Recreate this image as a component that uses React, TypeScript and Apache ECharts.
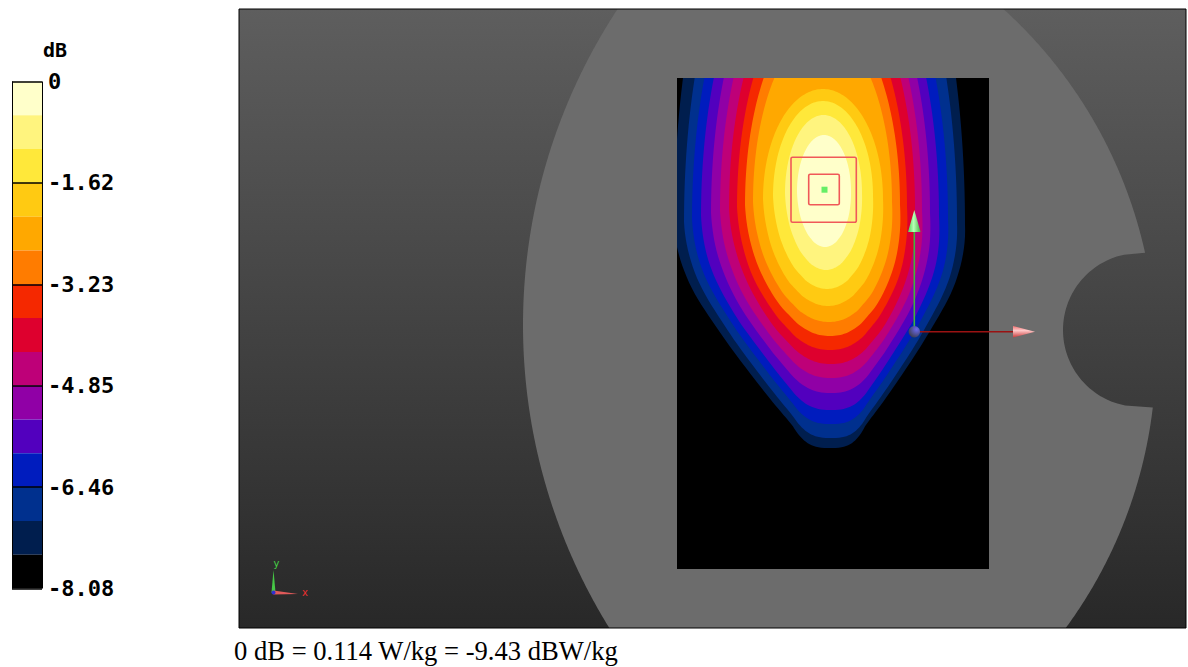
import React, { useEffect, useRef } from 'react';
import * as echarts from 'echarts';

type Pt = [number, number];

// ---- colour scale (dB) ----
const tickLabels = ['0', '-1.62', '-3.23', '-4.85', '-6.46', '-8.08'];
const tickStep = 1.616;
const scaleMin = -8.08;
const scaleMax = 0;
const bandLower = [-0.539, -1.077, -1.616, -2.155, -2.693, -3.232, -3.771, -4.309, -4.848, -5.387, -5.925, -6.464, -7.003, -7.541, -8.08];
const bandColors = ['#FFFFCA', '#FFF47E', '#FFE83A', '#FFCA12', '#FFA800', '#FF7C00', '#F52800', '#DE002E', '#BE0078', '#9000A6', '#5200BE', '#001CBE', '#00308E', '#001E4E', '#000000'];

// ---- iso-dB contours: outer boundary of each colour band (scan-area units, y downward) ----
const levelLeft = [120, 108, 96, 86, 76, 68, 60, 52, 43, 34, 24, 15, 7, -3];
const levelRight = [174, 185, 196, 206, 215, 223, 230, 238, 245, 253, 262, 271, 280, 288];
const levelWidestY = [113, 115, 118, 121, 124, 127, 129, 131, 133, 135, 138, 141, 144, 147];
const levelTop = [57, 37, 23, 11, -48, -68, -90, -113, -133, -153, -168, -188, -228, -278];
const levelBottom = [169, 192, 211, 228, 244, 258, 272, 286, 300, 315, 332, 346, 360, 370];
const levelTipX = [148, 149, 150, 151, 152, 153, 153, 154, 154, 154, 154, 154, 154, 153];
// relative half-width of the lower part at 25 %, 50 %, 75 % and 90 % of the way down
const levelF25 = [0.968, 0.968, 0.968, 0.968, 0.968, 0.967, 0.965, 0.96, 0.96, 0.955, 0.95, 0.94, 0.93, 0.92];
const levelF50 = [0.866, 0.866, 0.866, 0.866, 0.86, 0.855, 0.85, 0.83, 0.82, 0.8, 0.77, 0.74, 0.72, 0.7];
const levelF75 = [0.661, 0.661, 0.661, 0.661, 0.65, 0.64, 0.62, 0.6, 0.57, 0.54, 0.5, 0.47, 0.45, 0.43];
const levelF90 = [0.436, 0.436, 0.436, 0.436, 0.43, 0.42, 0.41, 0.39, 0.37, 0.35, 0.32, 0.29, 0.27, 0.25];
const levelTipRound = [0.5, 0.5, 0.5, 0.5, 0.48, 0.46, 0.45, 0.44, 0.42, 0.4, 0.38, 0.36, 0.35, 0.33];

// ---- scene geometry (same units) ----
const view = { x0: -438, x1: 509, y0: -69, y1: 550 };
const scanArea = { x0: 0, y0: 0, x1: 312, y1: 491 };
const phantomLeft = { cx: 421, cy: 247, r: 575 };
const phantomRight = { cx: 15, cy: 275, r: 464 };
const phantomNotch = { cx: 463, cy: 252, r: 77 };
const zoomCubes: [number, number, number, number][] = [[114, 79.3, 179.3, 144.3], [131.7, 96.3, 162.3, 126.7]];
const peakPoint: Pt = [147.5, 111.7];
const probeOrigin: Pt = [237.3, 253.7];
const probeYTip: Pt = [237.3, 132];
const probeXTip: Pt = [358, 253.7];
const triadOrigin: Pt = [-403.5, 514.5];
const triadYTip: Pt = [-403.5, 492];
const triadXTip: Pt = [-379, 516];

const caption = '0 dB = 0.114 W/kg = -9.43 dBW/kg';

function clipToBox(pts: Pt[], x0: number, y0: number, x1: number, y1: number): Pt[] {
  const planes: Array<[(p: Pt) => boolean, (a: Pt, b: Pt) => Pt]> = [
    [(p) => p[0] >= x0, (a, b) => [x0, a[1] + ((x0 - a[0]) / (b[0] - a[0])) * (b[1] - a[1])]],
    [(p) => p[0] <= x1, (a, b) => [x1, a[1] + ((x1 - a[0]) / (b[0] - a[0])) * (b[1] - a[1])]],
    [(p) => p[1] >= y0, (a, b) => [a[0] + ((y0 - a[1]) / (b[1] - a[1])) * (b[0] - a[0]), y0]],
    [(p) => p[1] <= y1, (a, b) => [a[0] + ((y1 - a[1]) / (b[1] - a[1])) * (b[0] - a[0]), y1]],
  ];
  let out = pts;
  for (const [inside, cut] of planes) {
    const src = out;
    out = [];
    for (let i = 0; i < src.length; i++) {
      const cur = src[i];
      const prev = src[(i + src.length - 1) % src.length];
      const ci = inside(cur);
      const pi = inside(prev);
      if (ci) {
        if (!pi) out.push(cut(prev, cur));
        out.push(cur);
      } else if (pi) out.push(cut(prev, cur));
    }
    if (!out.length) break;
  }
  return out;
}

function lowerProfile(i: number, t: number): number {
  const ts = [0, 0.25, 0.5, 0.75, 0.9];
  const fs = [1, levelF25[i], levelF50[i], levelF75[i], levelF90[i]];
  if (t >= 0.9) return fs[4] * Math.pow(Math.max(0, (1 - t) / 0.1), levelTipRound[i]);
  const m = fs.map((_, k) =>
    k === 0 ? 0 : k === 4 ? (fs[4] - fs[3]) / (ts[4] - ts[3]) : (fs[k + 1] - fs[k - 1]) / (ts[k + 1] - ts[k - 1]),
  );
  let k = 0;
  while (k < 3 && t > ts[k + 1]) k++;
  const h = ts[k + 1] - ts[k];
  const u = (t - ts[k]) / h;
  const u2 = u * u, u3 = u2 * u;
  return (2 * u3 - 3 * u2 + 1) * fs[k] + (u3 - 2 * u2 + u) * h * m[k] + (-2 * u3 + 3 * u2) * fs[k + 1] + (u3 - u2) * h * m[k + 1];
}

function contourOutline(i: number): Pt[] {
  const L = levelLeft[i], R = levelRight[i], W = levelWidestY[i], T = levelTop[i], B = levelBottom[i];
  const tip = levelTipX[i];
  const cU = (L + R) / 2, hw = (R - L) / 2;
  const N = 60;
  const right: Pt[] = [], left: Pt[] = [];
  for (let k = 0; k <= N; k++) {
    const th = (k / N) * (Math.PI / 2);
    const f = Math.sin(th);
    const y = W - (W - T) * Math.cos(th);
    right.push([cU + hw * f, y]);
    left.push([cU - hw * f, y]);
  }
  for (let k = 1; k <= N; k++) {
    const th = (k / N) * (Math.PI / 2);
    const t = Math.sin(th);
    const f = lowerProfile(i, t);
    const c = cU + (tip - cU) * t;
    const y = W + (B - W) * t;
    right.push([c + hw * f, y]);
    left.push([c - hw * f, y]);
  }
  return right.concat(left.reverse());
}

function phantomOutline(): Pt[] {
  const right: Pt[] = [], left: Pt[] = [];
  const N = 320;
  for (let k = 0; k <= N; k++) {
    const y = view.y0 + ((view.y1 - view.y0) * k) / N;
    const dl = y - phantomLeft.cy;
    const xl = phantomLeft.cx - Math.sqrt(Math.max(0, phantomLeft.r ** 2 - dl * dl));
    const dr = y - phantomRight.cy;
    let xr = phantomRight.cx + Math.sqrt(Math.max(0, phantomRight.r ** 2 - dr * dr));
    const dn = y - phantomNotch.cy;
    if (Math.abs(dn) < phantomNotch.r) xr = Math.min(xr, phantomNotch.cx - Math.sqrt(phantomNotch.r ** 2 - dn * dn));
    right.push([xr, y]);
    left.push([xl, y]);
  }
  return clipToBox(right.concat(left.reverse()), view.x0, view.y0, view.x1, view.y1);
}

export default function App() {
  const ref = useRef<HTMLDivElement>(null);

  useEffect(() => {
    if (!ref.current) return;
    const chart = echarts.init(ref.current, undefined, { renderer: 'svg' });

    const rectOf = (api: any, a: Pt, b: Pt) => {
      const p0 = api.coord(a);
      const p1 = api.coord(b);
      return { x: Math.min(p0[0], p1[0]), y: Math.min(p0[1], p1[1]), width: Math.abs(p1[0] - p0[0]), height: Math.abs(p1[1] - p0[1]) };
    };

    const mainAxes = { xAxisIndex: 1, yAxisIndex: 1, coordinateSystem: 'cartesian2d', silent: true };

    const colourBarSeries = bandColors.map((c, i) => ({
      type: 'bar',
      xAxisIndex: 0,
      yAxisIndex: 0,
      stack: 'scale',
      barWidth: '100%',
      silent: true,
      data: [bandLower[i] - (i === 0 ? 0 : bandLower[i - 1])],
      itemStyle: { color: c },
    }));

    const option: any = {
      animation: false,
      backgroundColor: '#ffffff',
      grid: [
        { left: 12, top: 81.5, width: 30, height: 507, show: false },
        { left: 239, top: 9, width: 947, height: 619, show: false },
      ],
      xAxis: [
        {
          gridIndex: 0, type: 'category', data: ['dB'], boundaryGap: true, z: 5,
          axisLine: { show: false }, axisTick: { show: false }, axisLabel: { show: false },
          splitLine: { show: true, lineStyle: { color: '#000', width: 1 } },
        },
        { gridIndex: 1, type: 'value', min: view.x0, max: view.x1, show: false },
      ],
      yAxis: [
        {
          gridIndex: 0, type: 'value', min: scaleMin, max: scaleMax, interval: tickStep, position: 'right', z: 5,
          axisLine: { show: false }, axisTick: { show: false },
          splitLine: { show: true, showMinLine: true, showMaxLine: true, lineStyle: { color: '#000', width: 1.5 } },
          axisLabel: {
            show: true, showMinLabel: true, showMaxLabel: true, margin: 6, color: '#000',
            fontFamily: '"DejaVu Sans Mono", monospace', fontWeight: 'bold', fontSize: 22,
            formatter: (v: number) => tickLabels[Math.round(-v / tickStep)] ?? '',
          },
        },
        { gridIndex: 1, type: 'value', min: view.y0, max: view.y1, inverse: true, show: false },
      ],
      graphic: [
        { type: 'text', x: 55, y: 50, style: { text: 'dB', fill: '#000', font: 'bold 20px "DejaVu Sans Mono", monospace', align: 'center', verticalAlign: 'middle' } },
        { type: 'text', x: 234, y: 651, style: { text: caption, fill: '#000', font: '26.6px "Liberation Serif", serif', align: 'left', verticalAlign: 'middle' } },
      ],
      series: [
        ...colourBarSeries,
        {
          type: 'custom', ...mainAxes, data: [[0, 0]],
          renderItem: (_p: any, api: any) => ({
            type: 'rect',
            shape: rectOf(api, [view.x0, view.y0], [view.x1, view.y1]),
            style: {
              fill: new echarts.graphic.LinearGradient(0, 0, 0, 1, [
                { offset: 0, color: '#5e5e5e' },
                { offset: 1, color: '#282828' },
              ]),
            },
          }),
        },
        {
          type: 'custom', ...mainAxes, data: [[0, 0]],
          renderItem: (_p: any, api: any) => ({
            type: 'polygon',
            shape: { points: phantomOutline().map((q) => api.coord(q)) },
            style: { fill: '#6c6c6c' },
          }),
        },
        {
          type: 'custom', ...mainAxes, data: [[0, 0]],
          renderItem: (_p: any, api: any) => ({
            type: 'rect',
            shape: rectOf(api, [scanArea.x0, scanArea.y0], [scanArea.x1, scanArea.y1]),
            style: { fill: bandColors[14] },
          }),
        },
        {
          type: 'custom', ...mainAxes,
          data: levelLeft.map((_, i) => [levelLeft.length - 1 - i, 0]),
          renderItem: (_p: any, api: any) => {
            const i = api.value(0);
            const pts = clipToBox(contourOutline(i), scanArea.x0, scanArea.y0, scanArea.x1, scanArea.y1);
            return { type: 'polygon', shape: { points: pts.map((q) => api.coord(q)) }, style: { fill: bandColors[i] } };
          },
        },
        {
          type: 'custom', ...mainAxes, data: [[0, 0]],
          renderItem: (_p: any, api: any) => {
            const children: any[] = zoomCubes.map((c) => ({
              type: 'rect',
              shape: { ...rectOf(api, [c[0], c[1]], [c[2], c[3]]), r: 1.5 },
              style: { fill: 'none', stroke: '#F05858', lineWidth: 1.6 },
            }));
            const pk = api.coord(peakPoint);
            children.push({ type: 'rect', shape: { x: pk[0] - 3, y: pk[1] - 3, width: 6, height: 6 }, style: { fill: '#66EE66' } });
            return { type: 'group', children };
          },
        },
        {
          type: 'custom', ...mainAxes, data: [[0, 0]],
          renderItem: (_p: any, api: any) => {
            const o = api.coord(probeOrigin);
            const yt = api.coord(probeYTip);
            const xt = api.coord(probeXTip);
            return {
              type: 'group',
              children: [
                { type: 'line', shape: { x1: o[0], y1: o[1], x2: yt[0], y2: yt[1] + 20 }, style: { stroke: '#3FB43F', lineWidth: 1.6 } },
                {
                  type: 'polygon',
                  shape: { points: [[yt[0] - 6.3, yt[1] + 22], [yt[0], yt[1]], [yt[0] + 6.3, yt[1] + 22]] },
                  style: {
                    fill: new echarts.graphic.LinearGradient(0, 0, 1, 0, [
                      { offset: 0, color: '#4ED04E' }, { offset: 0.45, color: '#B8FFB8' }, { offset: 1, color: '#3FB43F' },
                    ]),
                  },
                },
                { type: 'line', shape: { x1: o[0] + 4, y1: o[1], x2: xt[0] - 20, y2: xt[1] }, style: { stroke: '#9A1212', lineWidth: 1.4 } },
                {
                  type: 'polygon',
                  shape: { points: [[xt[0] - 22, xt[1] - 5.8], [xt[0], xt[1]], [xt[0] - 22, xt[1] + 5.8]] },
                  style: {
                    fill: new echarts.graphic.LinearGradient(0, 0, 0, 1, [
                      { offset: 0, color: '#F07070' }, { offset: 0.4, color: '#FFC8C8' }, { offset: 1, color: '#C83C3C' },
                    ]),
                  },
                },
                {
                  type: 'circle',
                  shape: { cx: o[0], cy: o[1], r: 5.7 },
                  style: {
                    fill: new echarts.graphic.RadialGradient(0.7, 0.3, 0.8, [
                      { offset: 0, color: '#6A6AF0' }, { offset: 1, color: '#3A3A4A' },
                    ]),
                  },
                },
              ],
            };
          },
        },
        {
          type: 'custom', ...mainAxes, data: [[0, 0]],
          renderItem: (_p: any, api: any) => {
            const o = api.coord(triadOrigin);
            const yt = api.coord(triadYTip);
            const xt = api.coord(triadXTip);
            return {
              type: 'group',
              children: [
                { type: 'polygon', shape: { points: [[o[0] - 2, o[1]], [yt[0], yt[1]], [o[0] + 2, o[1]]] }, style: { fill: '#46C846' } },
                { type: 'polygon', shape: { points: [[o[0], o[1] - 2], [xt[0], xt[1]], [o[0], o[1] + 2]] }, style: { fill: '#E05A5A' } },
                { type: 'circle', shape: { cx: o[0], cy: o[1], r: 2 }, style: { fill: '#3030D0' } },
                { type: 'text', x: yt[0] + 3, y: yt[1] - 7, style: { text: 'y', fill: '#46D246', font: '10px "DejaVu Sans", sans-serif', align: 'center', verticalAlign: 'middle' } },
                { type: 'text', x: xt[0] + 7, y: xt[1] - 2, style: { text: 'x', fill: '#E83030', font: '10px "DejaVu Sans", sans-serif', align: 'center', verticalAlign: 'middle' } },
              ],
            };
          },
        },
        {
          type: 'custom', ...mainAxes, data: [[0, 0]],
          renderItem: (_p: any, api: any) => ({
            type: 'rect',
            shape: rectOf(api, [view.x0, view.y0], [view.x1, view.y1]),
            style: { fill: 'none', stroke: '#000', lineWidth: 1 },
          }),
        },
      ],
    };

    chart.setOption(option);
    return () => chart.dispose();
  }, []);

  return (
    <div
      ref={ref}
      style={{ position: 'fixed', left: 0, top: 0, width: 1188, height: 667, background: '#fff' }}
    />
  );
}
